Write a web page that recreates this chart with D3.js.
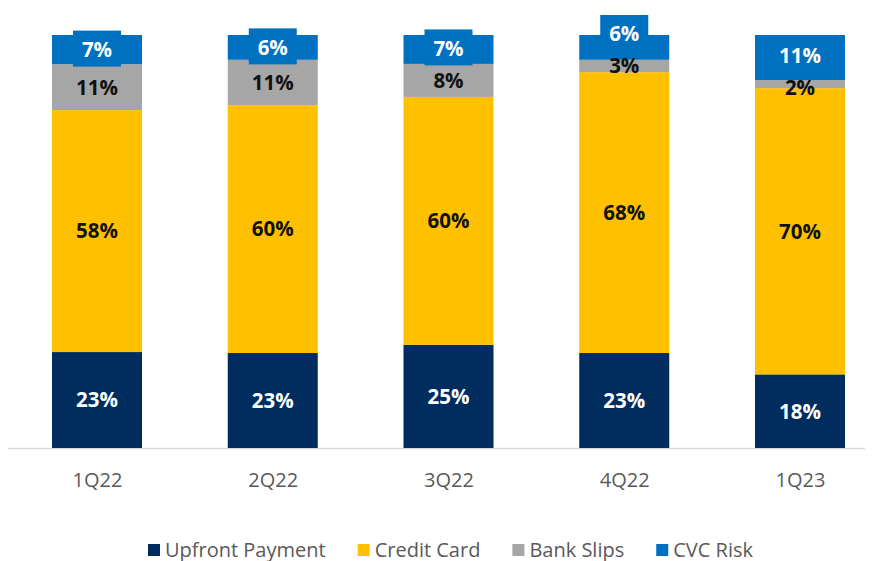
<!DOCTYPE html>
<html>
<head>
<meta charset="utf-8">
<script src="https://cdn.jsdelivr.net/npm/d3@7"></script>
<style>
  body { margin: 0; background: #fff; }
  text { font-family: "Open Sans", "Noto Sans", sans-serif; }
</style>
</head>
<body>
<div id="chart"></div>
<script>
// Chart data
var quarters = ["1Q22", "2Q22", "3Q22", "4Q22", "1Q23"];
var seriesNames = ["Upfront Payment", "Credit Card", "Bank Slips", "CVC Risk"];
var upfront = [23, 23, 25, 23, 18];
var creditCard = [58, 60, 60, 68, 70];
var bankSlips = [11, 11, 8, 3, 2];
var cvcRisk = [7, 6, 7, 6, 11];
var colors = ["#002d5e", "#ffc000", "#a6a6a6", "#0070c0"];
var labelColors = ["#fff", "#111", "#111", "#fff"];

var W = 872, H = 561;
var svg = d3.select("#chart").append("svg")
    .attr("width", W)
    .attr("height", H);

var values = [upfront, creditCard, bankSlips, cvcRisk];

// table for the stack: one row per quarter, normalised to 100%
var rows = quarters.map(function (q, i) {
  var row = { q: q };
  var total = d3.sum(values, function (s) { return s[i]; });
  seriesNames.forEach(function (n, k) { row[n] = values[k][i] / total; row[n + "_v"] = values[k][i]; });
  return row;
});

var stack = d3.stack().keys(seriesNames);
var series = stack(rows);

var x = d3.scalePoint().domain(quarters).range([97, 800]);
var y = d3.scaleLinear().domain([0, 1]).range([448, 35]);
var barW = 90;

// axis line and category labels
svg.append("line")
    .attr("x1", 8).attr("x2", 865)
    .attr("y1", 448.5).attr("y2", 448.5)
    .attr("stroke", "#d9d9d9")
    .attr("stroke-width", 1.5);

var xAxis = svg.append("g")
    .attr("transform", "translate(0,449)")
    .call(d3.axisBottom(x).tickSize(0).tickPadding(24));
xAxis.select(".domain").remove();
xAxis.selectAll("text")
    .style("font-size", "20px")
    .style("fill", "#595959")
    .style("font-family", "'Open Sans', 'Noto Sans', sans-serif");

// bars
var groups = svg.append("g").selectAll("g")
    .data(series)
    .enter().append("g")
    .attr("fill", function (d, k) { return colors[k]; });

groups.selectAll("rect")
    .data(function (d) { return d; })
    .enter().append("rect")
    .attr("x", function (d) { return x(d.data.q) - barW / 2; })
    .attr("y", function (d) { return y(d[1]); })
    .attr("width", barW)
    .attr("height", function (d) { return y(d[0]) - y(d[1]); });

// label positions, nudging crowded ones apart
function labelY(k, i) {
  var seg = series[k][i];
  var mid = (y(seg[0]) + y(seg[1])) / 2;
  var h = y(seg[0]) - y(seg[1]);
  if (k === 2 && h < 10) mid += 4;
  if (k === 3) mid = Math.min(mid, labelY(2, i) - 32);
  return mid;
}

var labels = svg.append("g");
series.forEach(function (s, k) {
  s.forEach(function (seg, i) {
    var cx = x(seg.data.q), cy = labelY(k, i);
    if (k === 3) {
      labels.append("rect")
        .attr("x", cx - 24).attr("y", cy - 19)
        .attr("width", 48).attr("height", 36)
        .attr("fill", colors[3]);
    }
    labels.append("text")
      .attr("x", cx)
      .attr("y", cy)
      .attr("dy", "0.36em")
      .attr("text-anchor", "middle")
      .style("font-size", "20.5px")
      .style("font-weight", "bold")
      .style("fill", labelColors[k])
      .text(seg.data[seriesNames[k] + "_v"] + "%");
  });
});

// legend
var legend = svg.append("g").attr("transform", "translate(148,550)");
var lx = 0;
seriesNames.forEach(function (n, k) {
  var item = legend.append("g").attr("transform", "translate(" + lx + ",0)");
  item.append("rect")
    .attr("x", 0).attr("y", -6)
    .attr("width", 12).attr("height", 12)
    .attr("fill", colors[k]);
  var t = item.append("text")
    .attr("x", 17)
    .attr("y", 0)
    .attr("dy", "0.35em")
    .style("font-size", "20px")
    .style("fill", "#595959")
    .text(n);
  lx += 17 + t.node().getComputedTextLength() + 32;
});
</script>
</body>
</html>
